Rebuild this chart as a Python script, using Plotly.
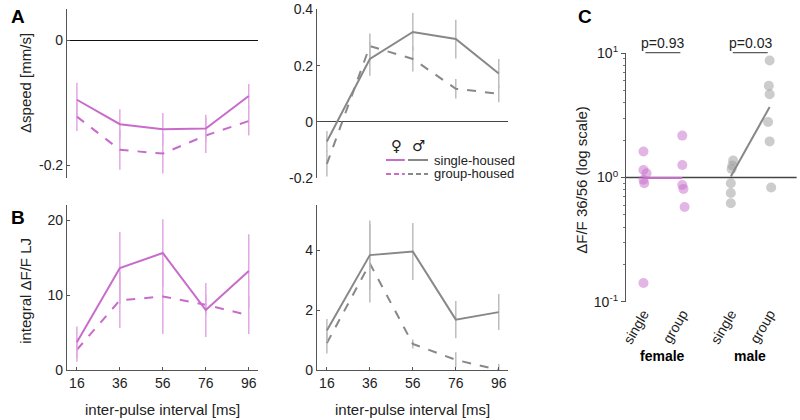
import plotly.graph_objects as go

# inter-pulse intervals [ms]
ipi = [16, 36, 56, 76, 96]

# panel A: change in speed [mm/s]
speed_f_single = [-0.095, -0.134, -0.142, -0.141, -0.089]
speed_f_single_err = [0.027, 0.024, 0.026, 0.022, 0.019]
speed_f_group = [-0.122, -0.175, -0.181, -0.152, -0.129]
speed_f_group_err = [0.023, 0.032, 0.032, 0.028, 0.023]
speed_m_single = [-0.07, 0.224, 0.32, 0.295, 0.172]
speed_m_single_err = [0.037, 0.06, 0.068, 0.069, 0.052]
speed_m_group = [-0.15, 0.27, 0.224, 0.118, 0.10]
speed_m_group_err = [0.045, 0.045, 0.045, 0.035, 0.03]

# panel B: integral dF/F LJ
df_f_single = [3.7, 13.6, 15.6, 8.0, 13.2]
df_f_single_err = [2.1, 4.8, 4.5, 3.6, 4.9]
df_f_group = [2.7, 9.3, 9.8, 8.7, 7.3]
df_f_group_err = [1.6, 3.7, 5.0, 1.4, 2.5]
df_m_single = [1.32, 3.83, 3.95, 1.68, 1.93]
df_m_single_err = [0.38, 1.15, 0.95, 0.62, 0.6]
df_m_group = [0.9, 3.55, 0.87, 0.34, 0.0]
df_m_group_err = [0.35, 1.3, 0.15, 0.25, 0.2]

# panel C: dF/F 36/56 ratio per animal
ratio_f_single = [1.62, 1.15, 1.08, 0.96, 0.90, 0.142]
ratio_f_group = [2.17, 1.26, 0.87, 0.81, 0.58]
ratio_m_single = [1.37, 1.25, 1.17, 0.90, 0.75, 0.62]
ratio_m_group = [8.7, 5.45, 4.67, 2.79, 1.95, 0.83]
jit_f_single = [0.0, 0.0, 0.08, 0.0, 0.02, 0.0]
jit_f_group = [0.0, 0.0, 0.0, 0.03, 0.06]
jit_m_single = [0.06, 0.04, 0.02, 0.0, 0.0, 0.0]
jit_m_group = [0.0, -0.02, 0.0, -0.04, 0.0, 0.04]
ratio_f_mean = [0.99, 0.99]
ratio_m_mean = [1.02, 3.68]
p_values = ["p=0.93", "p=0.03"]
cond_pos_f = [1, 2]
cond_pos_m = [3.25, 4.25]
cond_labels = ["single", "group", "single", "group"]

PURPLE = "#c86ccb"
PURPLE_ERR = "#e2a8e4"
GRAY = "#888888"
GRAY_ERR = "#bdbdbd"
FONT = "Liberation Sans"

fig = go.Figure()


def add_pair(single, single_err, group, group_err, color, err_color, xa, ya):
    fig.add_trace(go.Scatter(
        x=ipi, y=group, mode="lines", xaxis=xa, yaxis=ya,
        line=dict(color=color, width=2, dash="dash"),
        error_y=dict(type="data", array=group_err, color=err_color, thickness=1.5, width=0),
        showlegend=False, hoverinfo="skip"))
    fig.add_trace(go.Scatter(
        x=ipi, y=single, mode="lines", xaxis=xa, yaxis=ya,
        line=dict(color=color, width=2),
        error_y=dict(type="data", array=single_err, color=err_color, thickness=1.5, width=0),
        showlegend=False, hoverinfo="skip"))


add_pair(speed_f_single, speed_f_single_err, speed_f_group, speed_f_group_err, PURPLE, PURPLE_ERR, "x", "y")
add_pair(speed_m_single, speed_m_single_err, speed_m_group, speed_m_group_err, GRAY, GRAY_ERR, "x2", "y2")
add_pair(df_f_single, df_f_single_err, df_f_group, df_f_group_err, PURPLE, PURPLE_ERR, "x3", "y3")
add_pair(df_m_single, df_m_single_err, df_m_group, df_m_group_err, GRAY, GRAY_ERR, "x4", "y4")

# panel C
fig.add_trace(go.Scatter(x=[0.55, 4.95], y=[1, 1], mode="lines", xaxis="x5", yaxis="y5",
                         line=dict(color="#444444", width=1.3), showlegend=False, hoverinfo="skip"))
groups = [
    (cond_pos_f[0], jit_f_single, ratio_f_single, PURPLE),
    (cond_pos_f[1], jit_f_group, ratio_f_group, PURPLE),
    (cond_pos_m[0], jit_m_single, ratio_m_single, "#9a9a9a"),
    (cond_pos_m[1], jit_m_group, ratio_m_group, "#9a9a9a"),
]
for pos, jit, vals, col in groups:
    fig.add_trace(go.Scatter(
        x=[pos + j for j in jit], y=vals, mode="markers", xaxis="x5", yaxis="y5",
        marker=dict(color=col, size=10, opacity=0.5, line=dict(width=0)),
        showlegend=False, hoverinfo="skip"))
fig.add_trace(go.Scatter(x=cond_pos_f, y=ratio_f_mean, mode="lines", xaxis="x5", yaxis="y5",
                         line=dict(color=PURPLE, width=2), showlegend=False, hoverinfo="skip"))
fig.add_trace(go.Scatter(x=cond_pos_m, y=ratio_m_mean, mode="lines", xaxis="x5", yaxis="y5",
                         line=dict(color=GRAY, width=2), showlegend=False, hoverinfo="skip"))

axis_font = dict(family=FONT, size=14, color="#222222")
xcommon = dict(range=[11.4, 100.3], tickvals=ipi, showgrid=False, zeroline=False,
               tickfont=axis_font, ticks="inside", ticklen=3, tickcolor="#555",
               automargin=False)
ycommon = dict(showgrid=False, showline=True, linecolor="#555555", linewidth=1.2,
               tickfont=axis_font, ticks="inside", ticklen=3, tickcolor="#555",
               automargin=False)

fig.update_layout(
    width=800, height=420, autosize=False,
    margin=dict(l=0, r=0, t=0, b=0, pad=0),
    showlegend=False,
    paper_bgcolor="white", plot_bgcolor="white",
    font=dict(family=FONT, size=13, color="#222222"),
    xaxis=dict(xcommon, domain=[0.08375, 0.3225], anchor="y", showticklabels=False,
               showline=False, ticks=""),
    yaxis=dict(ycommon, domain=[0.5762, 0.9786], anchor="x", range=[-0.22, 0.05],
               tickvals=[-0.2, 0], ticktext=["-0.2", "0"],
               zeroline=True, zerolinecolor="#111111", zerolinewidth=1.2),
    xaxis2=dict(xcommon, domain=[0.39625, 0.635], anchor="y2", showticklabels=False,
                showline=False, ticks=""),
    yaxis2=dict(ycommon, domain=[0.5762, 0.9786], anchor="x2", range=[-0.2, 0.402],
                tickvals=[-0.2, 0, 0.2, 0.4], ticktext=["-0.2", "0", "0.2", "0.4"],
                zeroline=True, zerolinecolor="#444444", zerolinewidth=1.2),
    xaxis3=dict(xcommon, domain=[0.08375, 0.3225], anchor="y3", showline=True,
                linecolor="#555555", linewidth=1.2),
    yaxis3=dict(ycommon, domain=[0.1190, 0.5119], anchor="x3", range=[0, 22],
                tickvals=[0, 10, 20], zeroline=False),
    xaxis4=dict(xcommon, domain=[0.39625, 0.635], anchor="y4", showline=True,
                linecolor="#555555", linewidth=1.2),
    yaxis4=dict(ycommon, domain=[0.1190, 0.5119], anchor="x4", range=[0, 5.5],
                tickvals=[0, 2, 4], zeroline=False),
    xaxis5=dict(domain=[0.7825, 0.996], anchor="y5", range=[0.55, 4.95],
                tickvals=cond_pos_f + cond_pos_m, ticktext=cond_labels, tickangle=-60,
                showgrid=False, zeroline=False, showline=False, ticks="",
                tickfont=axis_font, automargin=False),
    yaxis5=dict(ycommon, domain=[0.2810, 0.8738], anchor="x5", type="log", range=[-1, 1],
                tickvals=[0.1, 1, 10],
                ticktext=["10<sup>-1</sup>", "10<sup>0</sup>", "10<sup>1</sup>"],
                ticks="outside", ticklen=4,
                minor=dict(ticks="outside", ticklen=2, tickcolor="#777", dtick="D1", showgrid=False)),
)

ann = []


def note(text, x, y, xref="paper", size=13, angle=0, xanchor="center", **kw):
    ann.append(dict(text=text, x=x, y=y, xref=xref, yref="paper", showarrow=False,
                    xanchor=xanchor, yanchor="middle", textangle=angle,
                    font=dict(size=size, **kw)))


# panel letters
for txt, x, y in [("A", 0.0225, 0.96), ("B", 0.0225, 0.481), ("C", 0.731, 0.96)]:
    note(f"<b>{txt}</b>", x, y, size=19, color="black")
# axis titles
note("\u0394speed [mm/s]", 0.031, 0.802, size=15, angle=-90)
note("integral \u0394F/F LJ", 0.031, 0.307, size=15, angle=-90)
note("\u0394F/F 36/56 (log scale)", 0.727, 0.571, size=15, angle=-90)
for xc in [0.203, 0.516]:
    note("inter-pulse interval [ms]", xc, 0.024, size=15)
# sex labels under panel C
for txt, xc in [("female", sum(cond_pos_f) / 2), ("male", sum(cond_pos_m) / 2)]:
    note(f"<b>{txt}</b>", xc, 0.152, xref="x5", size=14, color="black")
# p-values
shapes = []
for txt, pos in [(p_values[0], cond_pos_f), (p_values[1], cond_pos_m)]:
    note(txt, sum(pos) / 2, 0.898, xref="x5", size=14)
    shapes.append(dict(type="line", xref="x5", yref="paper", x0=pos[0] + 0.05, x1=pos[1] - 0.05,
                       y0=0.8745, y1=0.8745, line=dict(color="#333", width=1)))

# legend
note("\u2640", 0.495, 0.652, size=15, family="DejaVu Sans")
note("\u2642", 0.5225, 0.652, size=15, family="DejaVu Sans")
for label, yy, dash in [("single-housed", 0.619, "solid"), ("group-housed", 0.586, "5px,3px")]:
    shapes.append(dict(type="line", xref="paper", yref="paper", x0=0.4825, x1=0.506,
                       y0=yy, y1=yy, line=dict(color=PURPLE, width=2, dash=dash)))
    shapes.append(dict(type="line", xref="paper", yref="paper", x0=0.510, x1=0.535,
                       y0=yy, y1=yy, line=dict(color=GRAY, width=2, dash=dash)))
    note(label, 0.54, yy, xanchor="left")

fig.update_layout(annotations=ann, shapes=shapes)

# drop the default page margin so the figure sits at the window's top-left corner
fig.write_html("out.html", config={"displayModeBar": False},
               post_script="document.body.style.margin='0';")
